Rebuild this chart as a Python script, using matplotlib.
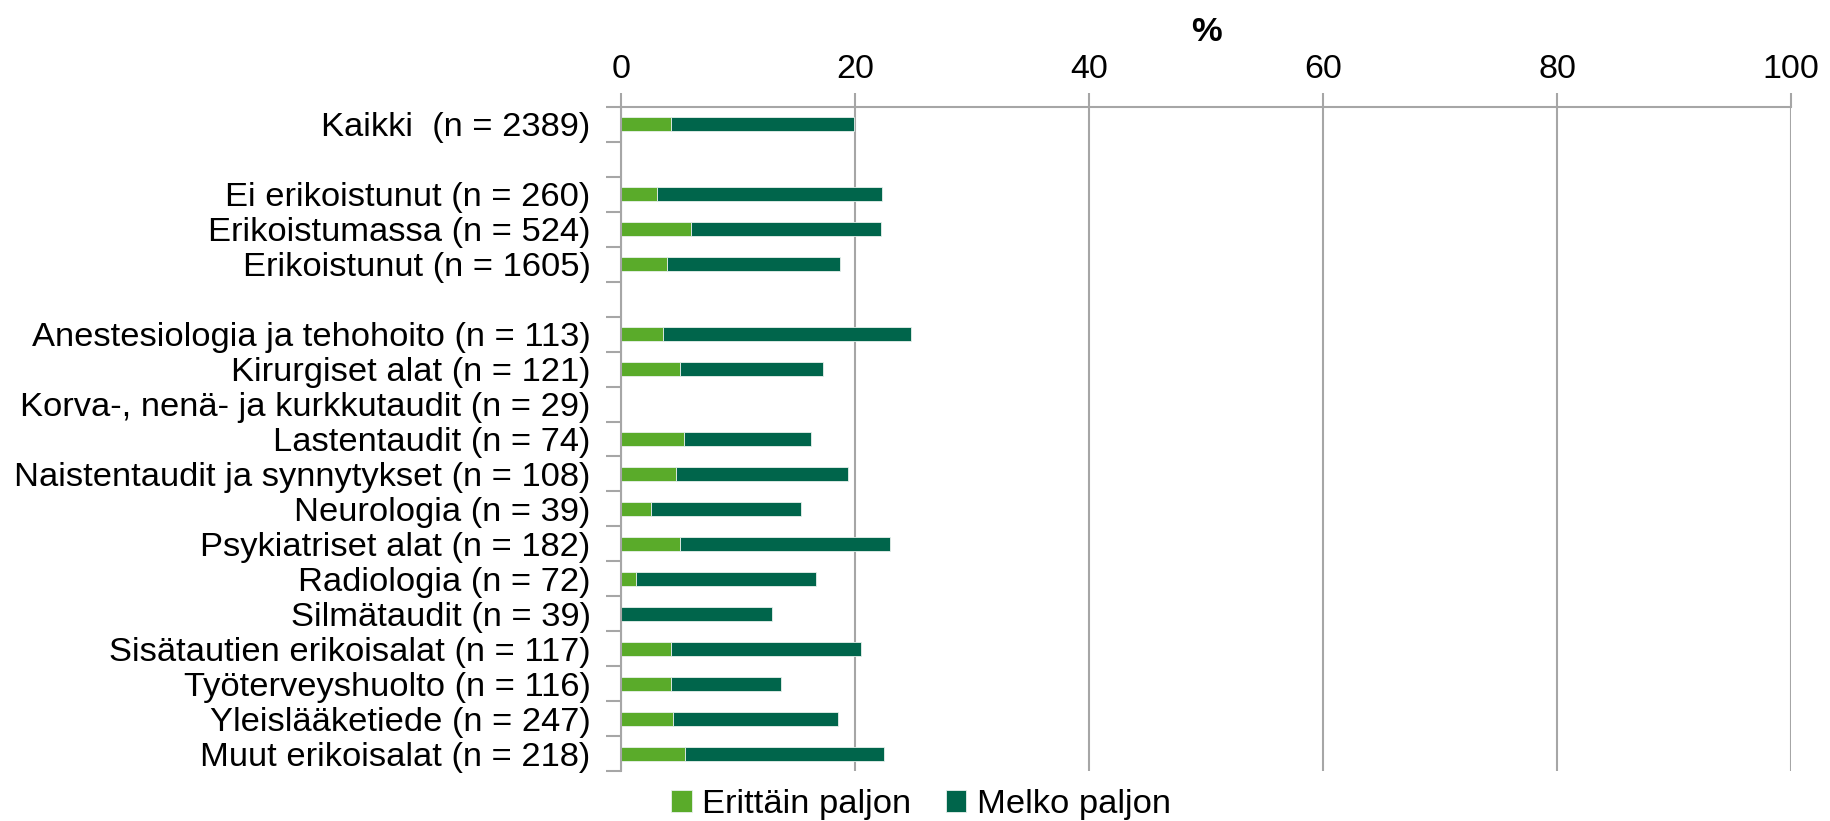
import matplotlib.pyplot as plt
import numpy as np

plt.rcParams['font.family'] = ['Liberation Sans', 'DejaVu Sans']

# rivit ylhäältä alas, tyhjät rivit ryhmien välissä
labels = ['Kaikki  (n = 2389)', '',
          'Ei erikoistunut (n = 260)', 'Erikoistumassa (n = 524)', 'Erikoistunut (n = 1605)', '',
          'Anestesiologia ja tehohoito (n = 113)', 'Kirurgiset alat (n = 121)',
          'Korva-, nenä- ja kurkkutaudit (n = 29)', 'Lastentaudit (n = 74)',
          'Naistentaudit ja synnytykset (n = 108)', 'Neurologia (n = 39)',
          'Psykiatriset alat (n = 182)', 'Radiologia (n = 72)', 'Silmätaudit (n = 39)',
          'Sisätautien erikoisalat (n = 117)', 'Työterveyshuolto (n = 116)',
          'Yleislääketiede (n = 247)', 'Muut erikoisalat (n = 218)']

erittain = [4.3, 0, 3.1, 6.0, 3.9, 0, 3.6, 5.0, 0, 5.4, 4.7, 2.6, 5.0, 1.3, 0, 4.3, 4.3, 4.4, 5.5]
yhteensa = [19.9, 0, 22.3, 22.2, 18.7, 0, 24.8, 17.3, 0, 16.2, 19.4, 15.4, 23.0, 16.7, 12.9, 20.5, 13.7, 18.5, 22.5]
melko = [t - e for t, e in zip(yhteensa, erittain)]

c1 = '#5aab2a'
c2 = '#00654b'
grid_c = '#a6a6a6'
fs = 24.8

fig = plt.figure(figsize=(18.31, 8.21), dpi=100)
ax = fig.add_axes([0.3392, 0.0609, 0.6390, 0.8088])

y = np.arange(len(labels))
ax.barh(y, erittain, height=0.4, color=c1, edgecolor='#e8f0ec', linewidth=0.6, label='Erittäin paljon')
ax.barh(y, melko, left=erittain, height=0.4, color=c2, edgecolor='#e8f0ec', linewidth=0.6, label='Melko paljon')

ax.set_xlim(0, 100)
ax.set_ylim(len(labels) - 0.5, -0.5)
ax.set_xticks(range(0, 101, 20))
ax.xaxis.tick_top()
ax.tick_params(axis='x', colors=grid_c, labelcolor='black', labelsize=24.5, length=10, width=1.5, pad=6)
ax.set_xlabel('%', fontsize=fs, fontweight='bold', labelpad=9)
ax.xaxis.set_label_position('top')

ax.set_yticks(y)
ax.set_yticklabels(labels, fontsize=fs)
ax.tick_params(axis='y', which='major', length=0, pad=22)
ax.set_yticks(np.arange(-0.5, len(labels)), minor=True)
ax.tick_params(axis='y', which='minor', length=11, width=1.5, color=grid_c)

ax.grid(axis='x', color=grid_c, linewidth=1.5)
ax.set_axisbelow(True)
for s in ['right', 'bottom']:
    ax.spines[s].set_visible(False)
for s in ['left', 'top']:
    ax.spines[s].set_color(grid_c)
    ax.spines[s].set_linewidth(1.5)

fig.legend(loc='center', bbox_to_anchor=(0.503, 0.02), ncol=2, frameon=False, fontsize=fs,
           handlelength=0.6, handleheight=0.6, handletextpad=0.3, columnspacing=1.0)

fig.savefig('out.png', dpi=100)
